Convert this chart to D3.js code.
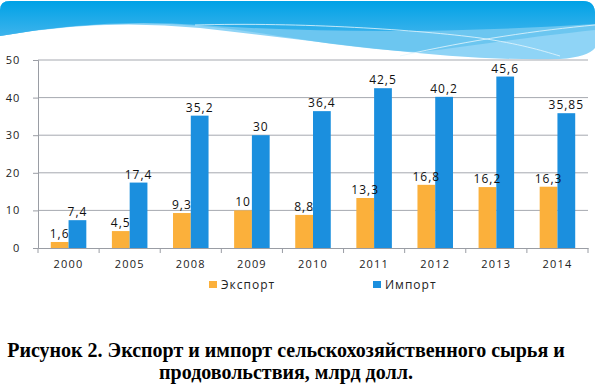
<!DOCTYPE html>
<html>
<head>
<meta charset="utf-8">
<script src="https://cdn.jsdelivr.net/npm/d3@7"></script>
<style>
  body { margin: 0; background: #fff; }
  svg { display: block; }
</style>
</head>
<body>
<svg id="chart" width="595" height="386"></svg>
<script>
// data
var years = ['2000', '2005', '2008', '2009', '2010', '2011', '2012', '2013', '2014'];
var exportVals = [1.6, 4.5, 9.3, 10, 8.8, 13.3, 16.8, 16.2, 16.3];
var importVals = [7.4, 17.4, 35.2, 30, 36.4, 42.5, 40.2, 45.6, 35.85];
var exportLabels = ['1,6', '4,5', '9,3', '10', '8,8', '13,3', '16,8', '16,2', '16,3'];
var importLabels = ['7,4', '17,4', '35,2', '30', '36,4', '42,5', '40,2', '45,6', '35,85'];
var yTicks = [0, 10, 20, 30, 40, 50];
var seriesNames = ['Экспорт', 'Импорт'];

var colExport = '#fbb03b';
var colImport = '#1b8fde';
var lblFont = 'Open Sans, sans-serif';

var svg = d3.select('#chart');

// blue header band
var defs = svg.append('defs');
var grad = defs.append('linearGradient').attr('id', 'hdr')
    .attr('x1', 0).attr('y1', 0).attr('x2', 0).attr('y2', 1);
grad.append('stop').attr('offset', '0%').attr('stop-color', '#00a2e6');
grad.append('stop').attr('offset', '100%').attr('stop-color', '#3db3ec');

svg.append('path')
    .attr('d', 'M0,36 L0,10 Q0,1 10,1 L583,1 Q594,1 595,12 L595,48 Q588,57 560,59 C 450,62 330,42 200,28 Q 100,18 0,36 Z')
    .attr('fill', '#8fd4f6');
svg.append('path')
    .attr('d', 'M0,36 L0,10 Q0,1 10,1 L583,1 Q594,1 595,12 L595,30 C 520,38 470,46 420,52 C 330,48 260,30 200,26 Q 100,18 0,36 Z')
    .attr('fill', '#5cc0ee').attr('opacity', 0.7);
svg.append('path')
    .attr('d', 'M0,36 L0,10 Q0,1 10,1 L583,1 Q594,1 595,12 L595,24 C 470,32 330,34 200,25 Q 100,18 0,36 Z')
    .attr('fill', 'url(#hdr)');
svg.append('path')
    .attr('d', 'M195,25 C 300,22 420,30 480,38 C 520,44 540,50 560,56')
    .attr('fill', 'none').attr('stroke', '#e6f6fd').attr('stroke-width', 0.8);
svg.append('path')
    .attr('d', 'M400,56 C 470,40 540,30 595,25')
    .attr('fill', 'none').attr('stroke', '#e6f6fd').attr('stroke-width', 0.8);

var mLeft = 38, mRight = 588, mTop = 60, mBottom = 248;

var x = d3.scaleBand().domain(years).range([mLeft, mRight]);
var xs = d3.scaleBand().domain(seriesNames).range([0, x.bandwidth()]).paddingOuter(0.72).paddingInner(0);
var y = d3.scaleLinear().domain([0, 50]).range([mBottom, mTop]);

// gridlines
svg.append('g').selectAll('line').data(yTicks.slice(1)).join('line')
    .attr('x1', mLeft).attr('x2', mRight)
    .attr('y1', function (d) { return y(d); }).attr('y2', function (d) { return y(d); })
    .attr('stroke', '#a6a9b0').attr('stroke-width', 1);

// y axis
var yAxis = svg.append('g')
    .attr('transform', 'translate(' + mLeft + ',0)')
    .call(d3.axisLeft(y).tickValues(yTicks).tickSize(5).tickPadding(13));
yAxis.select('.domain').attr('stroke', '#9a9da4');
yAxis.selectAll('.tick line').attr('stroke', '#9a9da4');
yAxis.selectAll('text').attr('font-family', lblFont).attr('font-size', 11)
    .attr('letter-spacing', 0.8).attr('fill', '#222');

// bars
var groups = svg.append('g').selectAll('g').data(years).join('g')
    .attr('transform', function (d) { return 'translate(' + x(d) + ',0)'; });

groups.append('rect')
    .attr('x', xs('Экспорт'))
    .attr('width', xs.bandwidth())
    .attr('y', function (d, i) { return y(exportVals[i]); })
    .attr('height', function (d, i) { return y(0) - y(exportVals[i]); })
    .attr('fill', colExport);
groups.append('rect')
    .attr('x', xs('Импорт'))
    .attr('width', xs.bandwidth())
    .attr('y', function (d, i) { return y(importVals[i]); })
    .attr('height', function (d, i) { return y(0) - y(importVals[i]); })
    .attr('fill', colImport);

groups.append('text')
    .attr('x', xs('Экспорт') + xs.bandwidth() / 2)
    .attr('y', function (d, i) { return y(exportVals[i]) - 4; })
    .attr('text-anchor', 'middle')
    .attr('font-family', lblFont).attr('font-size', 12).attr('letter-spacing', 1).attr('fill', '#111')
    .text(function (d, i) { return exportLabels[i]; });
groups.append('text')
    .attr('x', xs('Импорт') + xs.bandwidth() / 2)
    .attr('y', function (d, i) { return y(importVals[i]) - 4; })
    .attr('text-anchor', 'middle')
    .attr('font-family', lblFont).attr('font-size', 12).attr('letter-spacing', 1).attr('fill', '#111')
    .text(function (d, i) { return importLabels[i]; });

// x axis
var xAxis = svg.append('g')
    .attr('transform', 'translate(0,' + mBottom + ')')
    .call(d3.axisBottom(x).tickSize(0).tickPadding(12));
xAxis.select('.domain').attr('stroke', '#9a9da4');
xAxis.selectAll('text').attr('font-family', lblFont).attr('font-size', 11)
    .attr('letter-spacing', 1.2).attr('fill', '#222');
svg.append('g').selectAll('line').data(years.concat(['end'])).join('line')
    .attr('x1', function (d, i) { return mLeft + i * x.step(); })
    .attr('x2', function (d, i) { return mLeft + i * x.step(); })
    .attr('y1', mBottom).attr('y2', mBottom + 5)
    .attr('stroke', '#9a9da4');

// legend
var legend = svg.append('g');
var legX = [209, 373];
seriesNames.forEach(function (name, i) {
    legend.append('rect').attr('x', legX[i]).attr('y', 281).attr('width', 8).attr('height', 7)
        .attr('fill', i === 0 ? colExport : colImport);
    legend.append('text').attr('x', legX[i] + 12).attr('y', 289)
        .attr('font-family', lblFont).attr('font-size', 12).attr('letter-spacing', 1).attr('fill', '#222')
        .text(name);
});

// caption
svg.append('text').attr('x', 286).attr('y', 357).attr('text-anchor', 'middle')
    .attr('font-family', 'Liberation Serif, Times New Roman, serif').attr('font-weight', 'bold')
    .attr('font-size', 20).attr('fill', '#000')
    .text('Рисунок 2. Экспорт и импорт сельскохозяйственного сырья и');
svg.append('text').attr('x', 286).attr('y', 379).attr('text-anchor', 'middle')
    .attr('font-family', 'Liberation Serif, Times New Roman, serif').attr('font-weight', 'bold')
    .attr('font-size', 20).attr('fill', '#000')
    .text('продовольствия, млрд долл.');
</script>
</body>
</html>
